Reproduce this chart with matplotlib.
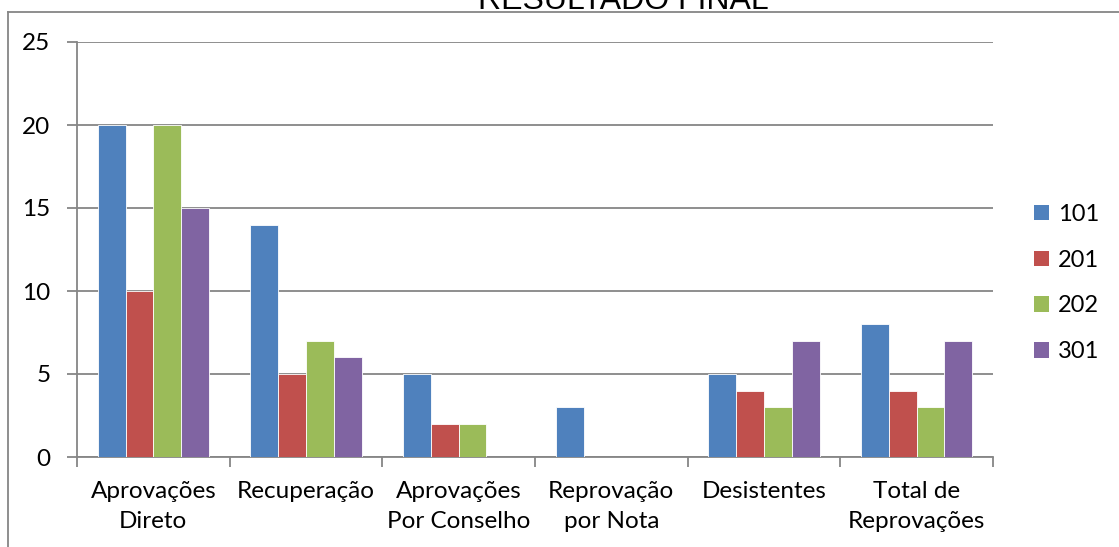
import matplotlib
matplotlib.use("Agg")
import matplotlib.pyplot as plt
from matplotlib.lines import Line2D
from matplotlib.patches import Patch
import numpy as np

categories = ["Aprovações\nDireto", "Recuperação", "Aprovações\nPor Conselho",
              "Reprovação\npor Nota", "Desistentes", "Total de\nReprovações"]
series_names = ["101", "201", "202", "301"]
v101 = [20, 14, 5, 3, 5, 8]
v201 = [10, 5, 2, 0, 4, 4]
v202 = [20, 7, 2, 0, 3, 3]
v301 = [15, 6, 0, 0, 7, 7]
values = [v101, v201, v202, v301]
colors = ["#4F81BD", "#C0504D", "#9BBB59", "#8064A2"]
grey = "#868686"

plt.rcParams["font.family"] = ["Lato", "DejaVu Sans"]

fig = plt.figure(figsize=(11.19, 5.47), dpi=100)
ax = fig.add_axes([77 / 1119, 1 - 457 / 547, (993 - 77) / 1119, (457 - 42) / 547])

x = np.arange(len(categories))
w = 1 / 5.5
for j, (vals, c) in enumerate(zip(values, colors)):
    ax.bar(x + (j - 1.5) * w, vals, width=w, color=c,
           edgecolor="#ffffff", linewidth=0.6, zorder=3)

ax.set_xlim(-0.5, len(categories) - 0.5)
ax.set_ylim(0, 25)
ax.set_yticks(np.arange(0, 26, 5))
ax.grid(axis="y", color=grey, linewidth=1.3, zorder=0)

ax.set_xticks(np.arange(-0.5, len(categories), 1))
ax.set_xticklabels([])
ax.set_xticks(x, minor=True)
ax.set_xticklabels(categories, minor=True, fontsize=17.5, linespacing=1.55)
ax.tick_params(axis="x", which="minor", length=0, pad=17)
ax.tick_params(axis="x", which="major", length=7, width=1.3, color=grey)
ax.tick_params(axis="y", length=7, width=1.3, color=grey, pad=12, labelsize=17.5)

for s in ["top", "right"]:
    ax.spines[s].set_visible(False)
for s in ["left", "bottom"]:
    ax.spines[s].set_color(grey)
    ax.spines[s].set_linewidth(1.3)

handles = [Patch(facecolor=c, edgecolor="none") for c in colors]
fig.legend(handles, series_names, loc="center left",
           bbox_to_anchor=(1034 / 1119, 1 - 283 / 547), frameon=False,
           borderpad=0, borderaxespad=0,
           fontsize=17, handlelength=0.62, handleheight=0.62,
           handletextpad=0.4, labelspacing=1.05)

# outer chart border, partly cut off
fig.add_artist(Line2D([8 / 1119, 8 / 1119], [0, 1 - 12 / 547],
                      transform=fig.transFigure, color=grey, linewidth=1.3))
fig.add_artist(Line2D([8 / 1119, 1], [1 - 12 / 547, 1 - 12 / 547],
                      transform=fig.transFigure, color=grey, linewidth=1.3))

fig.text(623 / 1119, 1 - 9 / 547, "RESULTADO FINAL", ha="center", va="baseline",
         fontsize=23, family="Liberation Sans")

fig.savefig("out.png", dpi=100)
